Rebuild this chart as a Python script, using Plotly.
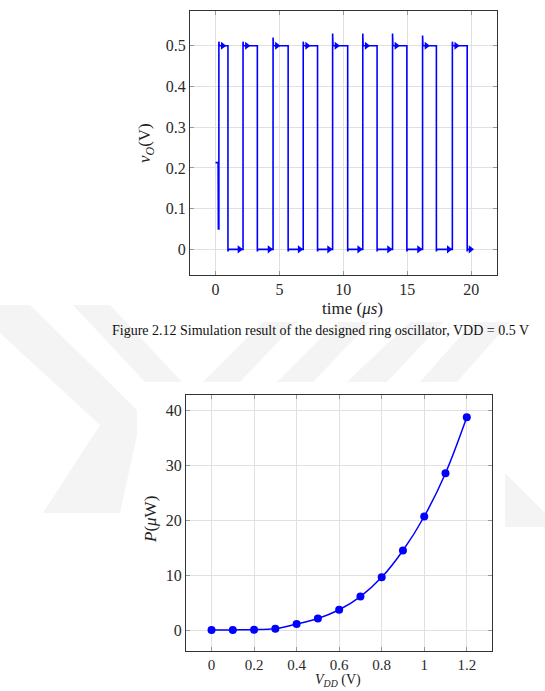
import plotly.graph_objects as go

# ---------------- data: ring oscillator output (top chart) ----------------
start_t = [0.0, 0.20, 0.22]          # initial transient times (us)
start_v = [0.213, 0.213, 0.05]       # initial transient values (V)
rise_t = [0.26, 2.15, 4.50, 6.86, 9.16, 11.52, 13.85, 16.20, 18.53]
fall_t = [0.97, 3.27, 5.68, 7.98, 10.34, 12.64, 14.97, 17.28, 19.69]
peak_v = [0.51, 0.51, 0.52, 0.51, 0.53, 0.53, 0.53, 0.525, 0.51]
high_v = 0.5
low_v = 0.0
end_t = 19.95

# ---------------- data: power vs supply (bottom chart) ----------------
vdd = [0, 0.1, 0.2, 0.3, 0.4, 0.5, 0.6, 0.7, 0.8, 0.9, 1.0, 1.1, 1.2]
power = [0.0, 0.02, 0.05, 0.25, 1.1, 2.1, 3.7, 6.1, 9.6, 14.5, 20.7, 28.6, 38.8]

top_xticks = [0, 5, 10, 15, 20]
top_yticks = [0, 0.1, 0.2, 0.3, 0.4, 0.5]
bot_xticks = [0, 0.2, 0.4, 0.6, 0.8, 1.0, 1.2]
bot_xticklabels = ["0", "0.2", "0.4", "0.6", "0.8", "1", "1.2"]
bot_yticks = [0, 10, 20, 30, 40]

W, H = 545, 691
BLUE = "#0000ff"

# build waveform polyline
tx = list(start_t)
ty = list(start_v)
for i, (r, f, p) in enumerate(zip(rise_t, fall_t, peak_v)):
    tx += [r, r, r + 0.03, f, f, f + 0.05]
    ty += [0.05 if i == 0 else low_v, p, high_v, high_v, -0.005, low_v]
tx.append(end_t)
ty.append(low_v)

glitch_x = [r + 0.3 for r in rise_t] + [r - 0.28 for r in rise_t[1:]] + [end_t]
glitch_y = [high_v] * len(rise_t) + [low_v] * (len(rise_t) - 1) + [low_v]

fig = go.Figure()
fig.add_trace(go.Scatter(x=tx, y=ty, mode="lines",
                         line=dict(color=BLUE, width=1.6),
                         xaxis="x", yaxis="y", showlegend=False))
fig.add_trace(go.Scatter(x=glitch_x, y=glitch_y, mode="markers",
                         marker=dict(symbol="triangle-right", size=7, color=BLUE),
                         xaxis="x", yaxis="y", showlegend=False))
fig.add_trace(go.Scatter(x=vdd, y=power, mode="lines+markers",
                         line=dict(color=BLUE, width=1.5, shape="spline"),
                         marker=dict(symbol="circle", size=8, color=BLUE),
                         xaxis="x2", yaxis="y2", showlegend=False))


def px(x):
    return x / W


def py(y):
    return 1 - y / H


axis_common = dict(
    showline=True, linecolor="#333333", linewidth=1.3, mirror="ticks",
    ticks="inside", ticklen=4, tickcolor="#999999", tickwidth=1,
    showgrid=True, gridcolor="#e0e0e0", gridwidth=1, zeroline=False,
    tickfont=dict(family="Liberation Serif", size=16, color="#2a2a2a"),
)
axis_bx = dict(axis_common)
axis_bx["tickfont"] = dict(family="Liberation Serif", size=15, color="#2a2a2a")

fig.update_layout(
    width=W, height=H,
    margin=dict(l=0, r=0, t=0, b=0),
    paper_bgcolor="white", plot_bgcolor="rgba(0,0,0,0)",
    xaxis=dict(domain=[px(190), px(496.7)], range=[-2, 22], tickvals=top_xticks,
               anchor="y", **axis_common),
    yaxis=dict(domain=[py(275), py(10.7)], range=[-0.063, 0.586], tickvals=top_yticks,
               anchor="x", **axis_common),
    xaxis2=dict(domain=[px(186), px(492.3)], range=[-0.12, 1.32], tickvals=bot_xticks,
                ticktext=bot_xticklabels, anchor="y2", **axis_bx),
    yaxis2=dict(domain=[py(651), py(395)], range=[-3.83, 42.86], tickvals=bot_yticks,
                anchor="x2", **axis_common),
)

font_lbl = dict(family="Liberation Serif", size=17, color="#222222")
ann = [
    dict(text="time (<i>μs</i>)", x=px(352), y=py(308)),
    dict(text="<i>v</i><sub><i>O</i></sub>(V)", x=px(146), y=py(143), textangle=-90),
    dict(text="<i>P</i>(<i>μ</i>W)", x=px(150), y=py(520), textangle=-90),
]
for a in ann:
    fig.add_annotation(xref="paper", yref="paper", showarrow=False,
                       xanchor="center", yanchor="middle", font=font_lbl, **a)

fig.add_annotation(text="<i>V</i><sub><i>DD</i></sub> (V)", xref="paper", yref="paper",
                   x=px(338), y=0, showarrow=False, xanchor="center", yanchor="bottom",
                   font=dict(family="Liberation Serif", size=14, color="#222222"))

fig.add_annotation(text="Figure 2.12 Simulation result of the designed ring oscillator, VDD = 0.5 V",
                   xref="paper", yref="paper", x=px(320), y=py(330), showarrow=False,
                   xanchor="center", yanchor="middle",
                   font=dict(family="Liberation Serif", size=14, color="#111111"))

# faint background watermark
WM = "#f4f4f4"
polys = [
    [(0, 305), (30, 305), (137, 410), (137, 435), (120, 513), (43, 513), (100, 425), (0, 333)],
    [(73, 305), (110, 305), (182, 382), (145, 382)],
    [(263, 322), (297, 322), (240, 382), (203, 382)],
    [(337, 322), (370, 322), (313, 382), (277, 382)],
    [(410, 322), (443, 322), (387, 382), (347, 382)],
    [(473, 322), (510, 322), (457, 382), (420, 382)],
    [(505, 473), (545, 513), (545, 527), (505, 527)],
]
for poly in polys:
    path = "M " + " L ".join(f"{px(x):.4f},{py(y):.4f}" for x, y in poly) + " Z"
    fig.add_shape(type="path", path=path, xref="paper", yref="paper",
                  fillcolor=WM, line=dict(width=0), layer="below")

fig.write_html("out.html")
